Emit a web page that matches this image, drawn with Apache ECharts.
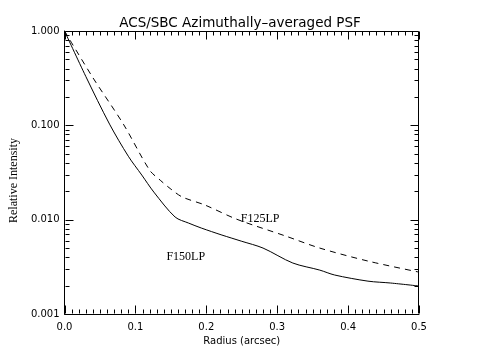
<!DOCTYPE html>
<html>
<head>
<meta charset="utf-8">
<script src="https://cdn.jsdelivr.net/npm/echarts@6/dist/echarts.min.js"></script>
<style>html,body{margin:0;padding:0;background:#fff;}#c{width:480px;height:360px;}</style>
</head>
<body>
<div id="c"></div>
<script>
var titleText = 'ACS/SBC Azimuthally\u2013averaged PSF';
var xMajorTicks = [0.0, 0.1, 0.2, 0.3, 0.4, 0.5];
var xMinorTicks = [0.01,0.02,0.03,0.04,0.05,0.06,0.07,0.08,0.09,
                   0.11,0.12,0.13,0.14,0.15,0.16,0.17,0.18,0.19,
                   0.21,0.22,0.23,0.24,0.25,0.26,0.27,0.28,0.29,
                   0.31,0.32,0.33,0.34,0.35,0.36,0.37,0.38,0.39,
                   0.41,0.42,0.43,0.44,0.45,0.46,0.47,0.48,0.49];
var yMajorTicks = [0.001, 0.010, 0.100, 1.000];
var yMinorTicks = [0.002,0.003,0.004,0.005,0.006,0.007,0.008,0.009,
                   0.02,0.03,0.04,0.05,0.06,0.07,0.08,0.09,
                   0.2,0.3,0.4,0.5,0.6,0.7,0.8,0.9];
var f150Radius = [0.0, 0.03, 0.0635, 0.09, 0.109, 0.126, 0.156, 0.175, 0.193, 0.222, 0.25, 0.28, 0.322, 0.36, 0.381, 0.428, 0.46, 0.5];
var f150Value  = [1.0, 0.33, 0.103, 0.047, 0.0297, 0.0196, 0.01066, 0.0092, 0.00815, 0.00687, 0.0059, 0.0050, 0.00347, 0.00292, 0.00259, 0.00223, 0.00213, 0.00198];
var f125Radius = [0.0, 0.04, 0.083, 0.12, 0.135, 0.15, 0.166, 0.198, 0.243, 0.312, 0.36, 0.428, 0.5];
var f125Value  = [1.0, 0.32, 0.103, 0.0335, 0.0262, 0.0211, 0.0174, 0.0143, 0.0101, 0.0067, 0.0050, 0.00364, 0.00278];
var labelF125 = {name: 'F125LP', r: 0.276, v: 0.0101};
var labelF150 = {name: 'F150LP', r: 0.171, v: 0.0040};

function zip(a, b) { return a.map(function (x, i) { return [x, b[i]]; }); }

var chart = echarts.init(document.getElementById('c'), null, {renderer: 'canvas'});
var axisCol = '#000';
var MAJOR = 8, MINOR = 4;

function mk(l) {
  return {
    symbol: 'circle', symbolSize: 0, silent: true,
    label: {show: true, position: 'inside', formatter: l.name, color: '#000', fontFamily: 'Liberation Serif', fontSize: 12},
    data: [{coord: [l.r, l.v], name: l.name}]
  };
}
function seg(x1, y1, x2, y2) {
  return {type: 'line', shape: {x1: x1, y1: y1, x2: x2, y2: y2}, style: {stroke: axisCol, lineWidth: 1, fill: null}};
}

chart.setOption({
  animation: false,
  backgroundColor: '#fff',
  title: {text: titleText, left: 'center', top: 11, textStyle: {color: '#000', fontFamily: 'DejaVu Sans', fontSize: 13.5, fontWeight: 'normal'}},
  grid: {left: 57, right: 61, top: 31, bottom: 46},
  xAxis: {
    type: 'value', min: 0, max: 0.5, interval: 0.1,
    axisLine: {show: true, lineStyle: {color: axisCol, width: 1}},
    axisTick: {show: false}, splitLine: {show: false},
    axisLabel: {margin: 8, formatter: function (v) { return v.toFixed(1); }, color: '#000', fontFamily: 'DejaVu Sans', fontSize: 10},
    name: 'Radius (arcsec)', nameLocation: 'middle', nameGap: 20,
    nameTextStyle: {color: '#000', fontFamily: 'DejaVu Sans', fontSize: 10}
  },
  yAxis: {
    type: 'log', logBase: 10, min: 0.001, max: 1,
    axisLine: {show: true, lineStyle: {color: axisCol, width: 1}},
    axisTick: {show: false}, splitLine: {show: false},
    axisLabel: {margin: 5, formatter: function (v) { return Number(v).toFixed(3); }, color: '#000', fontFamily: 'DejaVu Sans', fontSize: 10},
    name: 'Relative Intensity', nameLocation: 'middle', nameGap: 42,
    nameTextStyle: {color: '#000', fontFamily: 'Liberation Serif', fontSize: 12, padding: [0, 16, 0, 0]}
  },
  series: [
    {type: 'line', name: 'F150LP', data: zip(f150Radius, f150Value), showSymbol: false, symbol: 'none', smooth: 0.3,
     lineStyle: {color: '#000', width: 1, type: 'solid'}, markPoint: mk(labelF150)},
    {type: 'line', name: 'F125LP', data: zip(f125Radius, f125Value), showSymbol: false, symbol: 'none', smooth: 0.3,
     lineStyle: {color: '#000', width: 1, type: [6, 5]}, markPoint: mk(labelF125)},
    {type: 'custom', name: 'frame', silent: true, z: 20, clip: false,
     data: [[0.25, 0.03]],
     renderItem: function (params, api) {
       var cs = params.coordSys;
       var L = Math.round(cs.x) + 0.5, R = Math.round(cs.x + cs.width) - 0.5;
       var T = Math.round(cs.y) + 0.5, B = Math.round(cs.y + cs.height) - 0.5;
       var kids = [seg(L, T, R, T), seg(R, T, R, B)];
       function xt(v, len) {
         var x = Math.round(api.coord([v, 0.03])[0]) + 0.5;
         kids.push(seg(x, B, x, B - len));
         kids.push(seg(x, T, x, T + len));
       }
       function yt(v, len) {
         var y = Math.round(api.coord([0.25, v])[1]) + 0.5;
         kids.push(seg(L, y, L + len, y));
         kids.push(seg(R, y, R - len, y));
       }
       xMajorTicks.forEach(function (v) { xt(v, MAJOR); });
       xMinorTicks.forEach(function (v) { xt(v, MINOR); });
       yMajorTicks.forEach(function (v) { yt(v, MAJOR); });
       yMinorTicks.forEach(function (v) { yt(v, MINOR); });
       return {type: 'group', children: kids};
     }}
  ]
});
</script>
</body>
</html>
